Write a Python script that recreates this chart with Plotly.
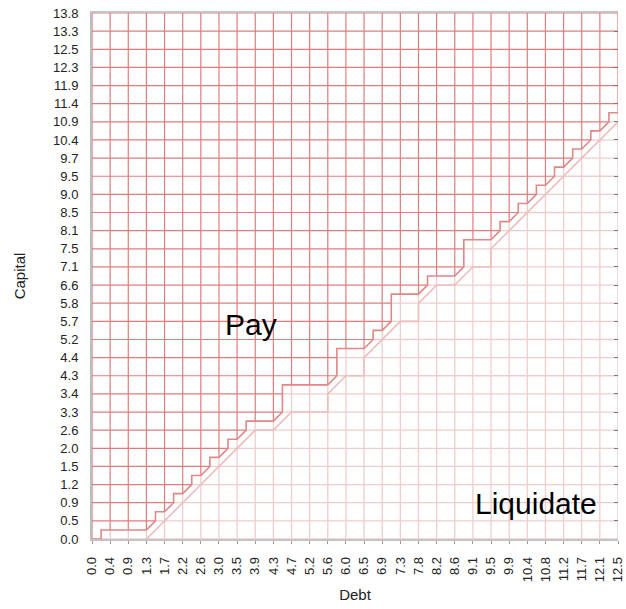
import plotly.graph_objects as go

# ---- data ----
debt_labels = ["0.0", "0.4", "0.9", "1.3", "1.7", "2.2", "2.6", "3.0", "3.5", "3.9",
               "4.3", "4.7", "5.2", "5.6", "6.0", "6.5", "6.9", "7.3", "7.8", "8.2",
               "8.6", "9.1", "9.5", "9.9", "10.4", "10.8", "11.2", "11.7", "12.1", "12.5"]
capital_labels = ["0.0", "0.5", "0.9", "1.2", "1.5", "2.0", "2.6", "3.3", "3.4", "4.3",
                  "4.4", "5.2", "5.7", "5.8", "6.6", "7.1", "7.5", "8.1", "8.5", "9.0",
                  "9.5", "9.7", "10.4", "10.9", "11.4", "11.9", "12.3", "12.5", "13.3", "13.8"]

# Pay boundary (capital index, half-step) for each debt column
pay_boundary = [0, 0.5, 0.5, 0.5, 1.5, 2.5, 3.5, 4.5, 5.5, 6.5,
                6.5, 8.5, 8.5, 8.5, 10.5, 10.5, 11.5, 13.5, 13.5, 14.5,
                14.5, 16.5, 16.5, 17.5, 18.5, 19.5, 20.5, 21.5, 22.5, 23.5]

# Liquidate boundary vertices (debt index, capital index)
liq_edge_debt = [3, 9, 10, 11, 13, 13, 14, 15, 15, 17, 18, 18, 19, 20, 21, 22, 22, 29]
liq_edge_capital = [0, 6, 6, 7, 7, 8, 9, 9, 10, 12, 12, 13, 14, 14, 15, 15, 16, 23]

annotations_text = ["Pay", "Liquidate"]

n = len(debt_labels)
m = len(capital_labels)
top = m - 1
right = n - 1

# ---- upper (Pay) boundary path ----
px, py = [0], [pay_boundary[0]]
for i in range(n - 1):
    h0, h1 = pay_boundary[i], pay_boundary[i + 1]
    if h1 == h0:
        px.append(i + 1); py.append(h1)
    else:
        if h0 <= 0:
            px += [i + 0.5, i + 0.5]; py += [h0, h1]
        else:
            px += [i + 0.5, i + 0.5]; py += [h0 + 0.5, h1]
        px.append(i + 1); py.append(h1)

# ---- grid lines split into Pay / Liquidate regions ----
pay_x, pay_y, liq_x, liq_y = [], [], [], []
for i in range(n):
    h = pay_boundary[i]
    if h > 0:
        liq_x += [i, i, None]; liq_y += [0, h, None]
    pay_x += [i, i, None]; pay_y += [h, top, None]
for j in range(m):
    xb = max([i + 0.5 for i in range(n) if pay_boundary[i] < j], default=0)
    xb = min(xb, right)
    if xb > 0:
        pay_x += [0, xb, None]; pay_y += [j, j, None]
    if xb < right:
        liq_x += [xb, right, None]; liq_y += [j, j, None]

fig = go.Figure()
fig.add_trace(go.Scatter(x=liq_x, y=liq_y, mode="lines",
                         line=dict(color="rgb(240,205,205)", width=1.3),
                         hoverinfo="skip", showlegend=False))
fig.add_trace(go.Scatter(x=pay_x, y=pay_y, mode="lines",
                         line=dict(color="rgb(222,125,125)", width=1.2),
                         hoverinfo="skip", showlegend=False))
fig.add_trace(go.Scatter(x=liq_edge_debt, y=liq_edge_capital, mode="lines",
                         line=dict(color="rgb(238,188,188)", width=1.6),
                         hoverinfo="skip", showlegend=False))
fig.add_trace(go.Scatter(x=px, y=py, mode="lines",
                         line=dict(color="rgb(225,135,135)", width=1.6),
                         hoverinfo="skip", showlegend=False))
# invisible trace to anchor the right-hand tick axis
fig.add_trace(go.Scatter(x=[0], y=[0], yaxis="y2", mode="markers",
                         marker=dict(opacity=0), hoverinfo="skip", showlegend=False))

tickfont = dict(family="Liberation Sans, Arial, sans-serif", size=13, color="#222")
fig.update_layout(
    width=626, height=609,
    margin=dict(l=92, r=8, t=13, b=70),
    paper_bgcolor="white", plot_bgcolor="white",
    font=dict(family="Liberation Sans, Arial, sans-serif", color="#222"),
    xaxis=dict(range=[0, right], tickmode="array", tickvals=list(range(n)),
               ticktext=debt_labels, tickangle=-90, tickfont=tickfont,
               ticks="outside", ticklen=3, tickcolor="#999", ticklabelstandoff=8,
               showgrid=False, zeroline=False, showline=True, linecolor="#c4c4c4",
               linewidth=1.5, mirror=True, automargin=False,
               title=dict(text="Debt", font=dict(size=15, color="#222"), standoff=8)),
    yaxis=dict(range=[0, top], tickmode="array", tickvals=list(range(m)),
               ticktext=capital_labels, tickfont=tickfont, ticks="",
               ticklabelstandoff=9, automargin=False,
               showgrid=False, zeroline=False, showline=True, linecolor="#bdbdbd",
               linewidth=2,
               title=dict(text="Capital", font=dict(size=15, color="#222"), standoff=24)),
    yaxis2=dict(range=[0, top], overlaying="y", side="right", tickmode="array",
                tickvals=list(range(m)), showticklabels=False, ticks="inside",
                ticklen=4, tickcolor="#777", showgrid=False, zeroline=False,
                showline=False, automargin=False),
    annotations=[
        dict(x=8.76, y=11.8, xref="x", yref="y", text=annotations_text[0],
             showarrow=False, font=dict(size=30, color="black")),
        dict(x=24.5, y=1.95, xref="x", yref="y", text=annotations_text[1],
             showarrow=False, font=dict(size=30, color="black")),
    ],
)

fig.write_html("out.html", config={"displayModeBar": False},
               post_script="document.body.style.margin='0';document.body.style.padding='0';")
